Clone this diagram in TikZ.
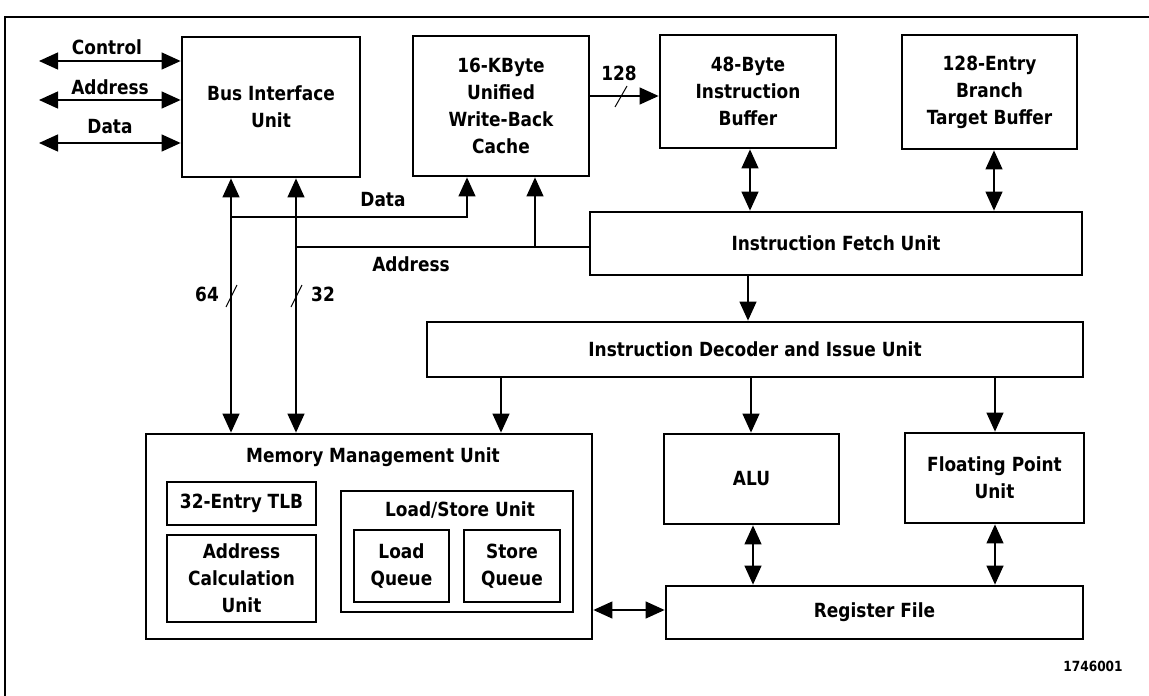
\documentclass[tikz,border=0pt]{standalone}
\usepackage{fontspec}
\newfontfamily\dv{DejaVu Sans}[FakeStretch=0.87]
\usetikzlibrary{arrows.meta}
\begin{document}
\begin{tikzpicture}[x=1pt,y=-1pt,
  >={Triangle[length=19pt,width=17pt]},
  every node/.style={font=\dv\bfseries\fontsize{19.5}{27}\selectfont, align=center, inner sep=0pt},
  unitbox/.style={draw, line width=2.8pt, minimum width=#1},
  subbox/.style={draw, line width=1.4pt},
  conn/.style={line width=1.3pt},
  lbl/.style={},
  tick/.style={line width=1pt}]
\useasboundingbox (0,0) rectangle (1149,696);
% frame (only left and top edges visible)
\draw[line width=2pt] (5,696) -- (5,17) -- (1149,17);

% main units
\node[draw, line width=2.8pt, minimum width=178pt, minimum height=140pt] (biu) at (271,107) {Bus Interface\\Unit};
\node[draw, line width=2.8pt, minimum width=176pt, minimum height=140pt] (cache) at (501,106) {16-KByte\\Unified\\Write-Back\\Cache};
\node[draw, line width=2.8pt, minimum width=176pt, minimum height=113pt] (ib) at (748,91.5) {48-Byte\\Instruction\\Buffer};
\node[draw, line width=2.8pt, minimum width=175pt, minimum height=114pt] (btb) at (989.5,92) {128-Entry\\Branch\\Target Buffer};
\node[draw, line width=2.8pt, minimum width=492pt, minimum height=63pt] (ifu) at (836,243.5) {Instruction Fetch Unit};
\node[draw, line width=2.8pt, minimum width=656pt, minimum height=55pt] (dec) at (755,349.5) {Instruction Decoder and Issue Unit};
\node[draw, line width=2.8pt, minimum width=446pt, minimum height=205pt] (mmu) at (369,536.5) {};
\node (mmut) at (373,457) {Memory Management Unit};
\node[subbox, minimum width=149pt, minimum height=43pt] (tlb) at (241.5,503.5) {32-Entry TLB};
\node[subbox, minimum width=149pt, minimum height=87pt] (acu) at (241.5,578.5) {Address\\Calculation\\Unit};
\node[subbox, minimum width=232pt, minimum height=121pt] (lsu) at (457,551.5) {};
\node (lsut) at (460,510) {Load/Store Unit};
\node[subbox, minimum width=95pt, minimum height=72pt] (lq) at (401.5,566) {Load\\Queue};
\node[subbox, minimum width=96pt, minimum height=72pt] (sq) at (512,566) {Store\\Queue};
\node[draw, line width=2.8pt, minimum width=175pt, minimum height=90pt] (alu) at (751.5,479) {ALU};
\node[draw, line width=2.8pt, minimum width=179pt, minimum height=90pt] (fpu) at (994.5,478) {Floating Point\\Unit};
\node[draw, line width=2.8pt, minimum width=417pt, minimum height=53pt] (rf) at (874.5,612.5) {Register File};

% external bus arrows
\coordinate (ext1) at (39,61);
\coordinate (ext2) at (39,100);
\coordinate (ext3) at (39,143);
\draw[conn,<->] (ext1) -- (ext1 -| biu.west);
\draw[conn,<->] (ext2) -- (ext2 -| biu.west);
\draw[conn,<->] (ext3) -- (ext3 -| biu.west);
\node (lctl) at (107,47) {Control};
\node (ladr) at (110,87) {Address};
\node (ldat) at (110,127) {Data};

% internal data and address buses
\coordinate (dx) at (231,217);
\coordinate (ax) at (296,247);
\coordinate (cd) at (467,217);
\coordinate (ca) at (535,247);
\draw[conn,<->] (dx |- mmu.north) -- (dx |- biu.south);
\draw[conn,<->] (ax |- mmu.north) -- (ax |- biu.south);
\draw[conn,->] (dx) -- (cd) -- (cd |- cache.south);
\draw[conn] (ax) -- (ax -| ifu.west);
\draw[conn,->] (ca) -- (ca |- cache.south);
\node (ldata) at (383,200) {Data};
\node (laddr) at (411,264) {Address};
\coordinate (s64a) at (237,285);
\coordinate (s64b) at (226,307);
\coordinate (s32a) at (302,285);
\coordinate (s32b) at (291,307);
\draw[tick] (s64a) -- (s64b);
\draw[tick] (s32a) -- (s32b);
\node (l64) at (207,294) {64};
\node (l32) at (323,294) {32};

% cache to instruction buffer
\coordinate (c128) at (589,96);
\draw[conn,->] (c128) -- (c128 -| ib.west);
\coordinate (s128a) at (627,86);
\coordinate (s128b) at (615,107);
\draw[tick] (s128a) -- (s128b);
\node (l128) at (619,73) {128};

% fetch / decode connections
\coordinate (xib) at (750,0);
\coordinate (xbtb) at (994,0);
\coordinate (xifd) at (748,0);
\draw[conn,<->] (xib |- ib.south) -- (xib |- ifu.north);
\draw[conn,<->] (xbtb |- btb.south) -- (xbtb |- ifu.north);
\draw[conn,->] (xifd |- ifu.south) -- (xifd |- dec.north);
\coordinate (xm) at (501,0);
\coordinate (xa) at (751,0);
\coordinate (xf) at (995,0);
\draw[conn,->] (xm |- dec.south) -- (xm |- mmu.north);
\draw[conn,->] (xa |- dec.south) -- (xa |- alu.north);
\draw[conn,->] (xf |- dec.south) -- (xf |- fpu.north);
\coordinate (xar) at (753,0);
\draw[conn,<->] (xar |- alu.south) -- (xar |- rf.north);
\draw[conn,<->] (xf |- fpu.south) -- (xf |- rf.north);
\coordinate (ymr) at (0,610);
\draw[conn,<->] (ymr -| mmu.east) -- (ymr -| rf.west);

\node[font=\dv\bfseries\fontsize{14}{16}\selectfont] (fig) at (1093,666) {1746001};
\end{tikzpicture}
\end{document}
